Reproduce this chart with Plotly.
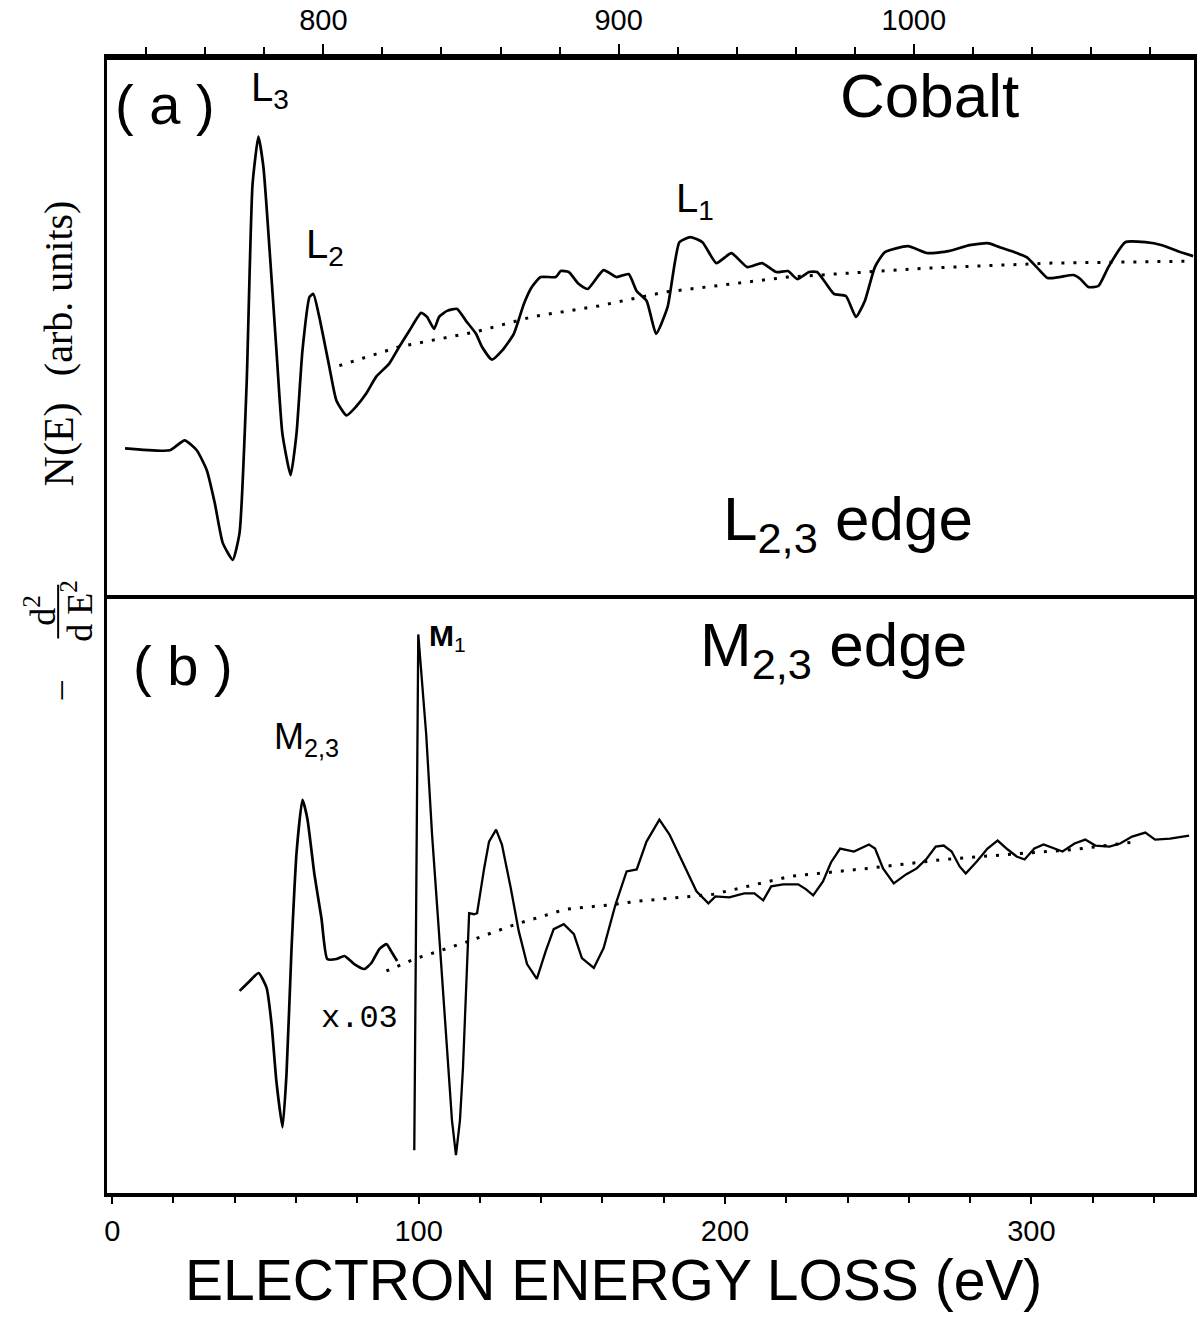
import plotly.graph_objects as go

# ---------------- data ----------------
# Panel (a): Cobalt L2,3 edge, energy loss (eV, top axis) vs -d2N/dE2 (arb. units)
a_energy = [732.8, 748.0, 753.0, 757.1, 760.5, 763.2, 765.9, 769.3, 771.6, 774.0,
            776.0, 778.0, 779.7, 781.8, 784.1, 786.1, 788.9, 790.9, 792.9, 795.3,
            796.6, 798.6, 802.0, 804.4, 807.8, 811.1, 814.5, 817.9, 822.3, 825.7,
            829.1, 833.1, 835.1, 837.5, 839.2, 841.9, 845.3, 848.3, 851.7, 853.7,
            857.1, 860.5, 864.5, 867.9, 870.6, 873.6, 878.7, 880.4, 883.1, 886.5,
            889.5, 894.9, 899.3, 903.4, 906.1, 909.5, 912.7, 916.6, 920.6, 924.3,
            928.4, 933.1, 938.2, 943.6, 948.6, 953.4, 957.4, 960.5, 964.5, 967.2,
            969.9, 973.0, 977.0, 980.4, 983.4, 986.8, 990.2, 998.0, 1004.7, 1011.8,
            1018.9, 1025.0, 1029.1, 1034.1, 1038.2, 1041.6, 1045.3, 1049.3, 1054.1, 1056.4,
            1059.1, 1062.5, 1065.9, 1071.6, 1078.4, 1084.1, 1089.5, 1094.6]
a_signal = [151, 149, 159, 149, 129, 96, 56, 39, 66, 216,
            416, 464, 433, 349, 249, 166, 124, 166, 249, 303,
            306, 283, 233, 199, 184, 193, 206, 223, 236, 253,
            269, 287, 283, 271, 283, 289, 291, 279, 266, 253,
            240, 249, 266, 296, 313, 323, 323, 329, 328, 316,
            311, 330, 323, 326, 309, 299, 266, 293, 358, 363,
            358, 337, 347, 333, 337, 328, 329, 321, 328, 328,
            318, 306, 304, 283, 299, 333, 348, 354, 347, 349,
            355, 357, 353, 348, 343, 333, 322, 323, 325, 321,
            313, 314, 333, 358, 358, 355, 349, 344]
a_bg_energy = [805.4, 825.7, 851.7, 870.6, 893.2, 915.9, 957.4, 1004.7, 1046.6, 1094.6]
a_bg_signal = [234, 253, 268, 283, 294, 308, 323, 332, 337, 339]

# Panel (b): Cobalt M2,3 edge, energy loss (eV, bottom axis)
b1_energy = [41.6, 44.9, 47.8, 50.4, 52.0, 53.6, 55.6, 56.9, 58.5, 60.2,
             62.1, 63.7, 66.0, 68.3, 70.2, 73.2, 75.8, 79.0, 82.3, 84.6,
             87.2, 89.5, 91.4, 93.0]
b1_signal = [203, 213, 221, 206, 170, 112, 66, 120, 243, 343,
             395, 376, 320, 276, 235, 235, 238, 230, 225, 231,
             245, 250, 241, 233]
b2_energy = [98.6, 99.9, 102.5, 104.4, 106.7, 109.0, 110.9, 112.2, 113.5, 114.5,
             115.5, 116.5, 118.1, 119.1, 121.4, 123.0, 125.3, 127.2, 130.1, 132.7,
             135.4, 138.6, 141.5, 144.1, 147.4, 150.7, 153.3, 157.2, 160.4, 164.3,
             167.9, 171.2, 174.4, 178.6, 181.9, 186.5, 190.7, 194.6, 196.9, 201.4,
             206.3, 209.6, 212.5, 215.1, 219.0, 223.9, 226.5, 228.8, 232.0, 234.6,
             237.6, 242.1, 247.0, 249.0, 251.6, 255.1, 259.1, 262.6, 265.9, 268.8,
             271.4, 274.0, 276.6, 278.6, 282.2, 285.7, 289.0, 292.3, 295.2, 297.8,
             301.0, 304.0, 307.2, 310.2, 314.1, 317.6, 320.9, 325.5, 329.0, 332.9,
             337.2, 340.4, 345.3, 351.5]
b2_signal = [43, 561, 460, 360, 260, 160, 73, 38, 73, 126,
             210, 281, 280, 281, 326, 353, 365, 350, 306, 263,
             230, 215, 243, 265, 270, 260, 236, 226, 246, 290,
             323, 325, 353, 375, 360, 330, 303, 291, 298, 297,
             301, 301, 294, 308, 310, 310, 305, 299, 313, 332,
             346, 343, 350, 346, 326, 311, 320, 326, 336, 348,
             349, 343, 328, 321, 333, 346, 354, 345, 338, 335,
             346, 350, 346, 343, 351, 355, 349, 348, 351, 358,
             362, 355, 356, 359]
b_bg_energy = [89.5, 98.6, 106.7, 115.5, 131.8, 148.0, 164.3, 171.2, 196.2, 221.3,
               246.4, 271.4, 296.5, 314.1, 334.6]
b_bg_signal = [223, 235, 243, 252, 270, 285, 290, 293, 300, 318,
               326, 335, 341, 345, 353]

top_ticks = [800, 900, 1000]
bottom_ticks = [0, 100, 200, 300]

# ---------------- figure ----------------
W, H = 1201, 1321
ML, MR, MT, MB = 107, 4, 55, 128
PH = H - MT - MB
split = 1 - (596 - MT) / PH

curve = dict(color="black", width=2.7, shape="spline", smoothing=0.5)
dots = dict(color="black", width=3, dash="3px,9px")

fig = go.Figure()
fig.add_trace(go.Scatter(x=a_bg_energy, y=a_bg_signal, mode="lines", line=dots,
                         xaxis="x", yaxis="y", showlegend=False))
fig.add_trace(go.Scatter(x=a_energy, y=a_signal, mode="lines", line=curve,
                         xaxis="x", yaxis="y", showlegend=False))
fig.add_trace(go.Scatter(x=b_bg_energy, y=b_bg_signal, mode="lines", line=dots,
                         xaxis="x2", yaxis="y2", showlegend=False))
fig.add_trace(go.Scatter(x=b1_energy, y=b1_signal, mode="lines", line=curve,
                         xaxis="x2", yaxis="y2", showlegend=False))
fig.add_trace(go.Scatter(x=b2_energy, y=b2_signal, mode="lines",
                         line=dict(color="black", width=2.3, shape="linear"),
                         xaxis="x2", yaxis="y2", showlegend=False))

tickfont = dict(family="Liberation Sans", size=29, color="black")
minor = dict(dtick=20, ticks="outside", ticklen=7, tickwidth=2,
             tickcolor="black", showgrid=False)
fig.update_layout(
    width=W, height=H,
    margin=dict(l=ML, r=MR, t=MT, b=MB),
    paper_bgcolor="white", plot_bgcolor="white",
    xaxis=dict(anchor="y", side="top", range=[726.7, 1094.9],
               tickmode="array", tickvals=top_ticks, ticklabelstandoff=2,
               showline=True, linecolor="black", linewidth=6, mirror=False,
               showgrid=False, zeroline=False, ticks="outside", ticklen=10,
               tickwidth=2, tickcolor="black", tickfont=tickfont, minor=minor),
    yaxis=dict(domain=[split, 1], range=[0, 541], showline=True, linecolor="black",
               linewidth=3, mirror=True, showgrid=False, zeroline=False,
               showticklabels=False, ticks=""),
    xaxis2=dict(anchor="y2", side="bottom", range=[-1.7, 353.1],
                tickmode="array", tickvals=bottom_ticks, ticklabelstandoff=2,
                showline=True, linecolor="black", linewidth=4, mirror=True,
                showgrid=False, zeroline=False, ticks="outside", ticklen=7,
                tickwidth=2, tickcolor="black", tickfont=tickfont,
                minor=dict(minor, ticklen=6)),
    yaxis2=dict(domain=[0, split], range=[0, 597], showline=True, linecolor="black",
                linewidth=3, mirror=True, showgrid=False, zeroline=False,
                showticklabels=False, ticks=""),
)

sans = "Liberation Sans"
serif = "Liberation Serif"


def note(text, x, y, size, xref="x", yref="y", family=sans, angle=0):
    fig.add_annotation(text=text, x=x, y=y, xref=xref, yref=yref, showarrow=False,
                       font=dict(family=family, size=size, color="black"),
                       textangle=angle, xanchor="center", yanchor="middle")


def ypix(p):
    return (H - MB - p) / PH


def xpix(p):
    return (p - ML) / (W - ML - MR)


# panel (a) labels
note("( a )", 746.3, 496, 56)
note("L<sub>3</sub>", 781.8, 511, 40)
note("L<sub>2</sub>", 800.7, 353, 40)
note("L<sub>1</sub>", 926.0, 399, 40)
note("Cobalt", 1005.4, 505, 62)
note("L<sub>2,3</sub> edge", 977.7, 76, 62)

# panel (b) labels
note("( b )", 23.0, 530, 56, xref="x2", yref="y2")
note("<b>M</b><sub>1</sub>", 109.3, 558, 30, xref="x2", yref="y2")
note("M<sub>2,3</sub>", 63.4, 456, 36, xref="x2", yref="y2")
note("M<sub>2,3</sub> edge", 235.3, 546, 62, xref="x2", yref="y2")
note("x.03", 80.8, 175, 32, xref="x2", yref="y2", family="Liberation Mono")

# x-axis title
note("ELECTRON ENERGY LOSS (eV)", xpix(615), ypix(1280), 57, xref="paper", yref="paper")

# y-axis title built from pieces (rotated)
note("(arb. units)", xpix(59), ypix(284), 40, xref="paper", yref="paper", family=serif, angle=-90)
note("N(E)", xpix(59), ypix(441), 42, xref="paper", yref="paper", family=serif, angle=-90)
note("d<sup>2</sup>", xpix(40), ypix(608), 36, xref="paper", yref="paper", family=serif, angle=-90)
note("d E<sup>2</sup>", xpix(77), ypix(608), 36, xref="paper", yref="paper", family=serif, angle=-90)
note("–", xpix(59), ypix(688), 36, xref="paper", yref="paper", family=serif, angle=-90)
fig.add_shape(type="line", xref="paper", yref="paper", x0=xpix(58), x1=xpix(58),
              y0=ypix(582), y1=ypix(636), line=dict(color="black", width=2))

fig.write_html("out.html", config={"displayModeBar": False},
               post_script="document.body.style.margin='0';")
